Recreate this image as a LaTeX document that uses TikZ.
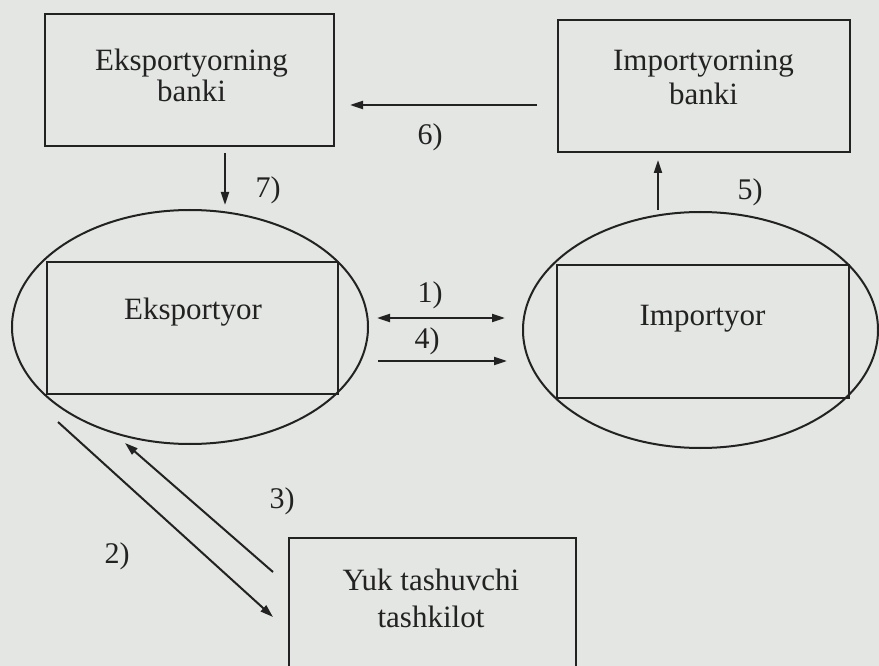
\documentclass[tikz,border=0pt]{standalone}
\usepackage{fontspec}
\setmainfont{Liberation Serif}
\usetikzlibrary{shapes.geometric,arrows.meta}
\definecolor{paper}{HTML}{E4E6E3}
\definecolor{ink}{HTML}{222222}
\begin{document}
\begin{tikzpicture}[x=1pt,y=-1pt,
  box/.style={draw=ink,line width=2pt,inner sep=0pt,minimum height=132pt},
  oval/.style={ellipse,draw=ink,line width=2pt,inner sep=0pt},
  txt/.style={text=ink,font=\fontsize{31}{33}\selectfont,inner sep=0pt,anchor=base},
  lbl/.style={text=ink,font=\fontsize{30}{33}\selectfont,inner sep=0pt,anchor=base},
  arr/.style={draw=ink,line width=2pt,-{Triangle[length=13pt,width=8pt]}},
  darr/.style={draw=ink,line width=2pt,{Triangle[length=13pt,width=8pt]}-{Triangle[length=13pt,width=8pt]}}]
\useasboundingbox (0,0) rectangle (879,666);
\clip (0,0) rectangle (879,666);
\fill[paper] (0,0) rectangle (879,666);

% top boxes
\node[box,minimum width=289pt] (ebank) at (189.5,80) {};
\node[txt] (ebank1) at (191.5,71) {Eksportyorning};
\node[txt] (ebank2) at (191.5,102) {banki};
\node[box,minimum width=292pt] (ibank) at (704,86) {};
\node[txt] (ibank1) at (703.5,71) {Importyorning};
\node[txt] (ibank2) at (703.5,105) {banki};

% ellipses with inner rectangles
\node[oval,minimum width=356pt,minimum height=234pt] (eov) at (190,327) {};
\node[box,minimum width=291pt] (erect) at (192.5,328) {};
\node[txt] (etxt) at (193,319) {Eksportyor};
\node[oval,minimum width=355pt,minimum height=236pt] (iov) at (700.5,330) {};
\node[box,minimum width=292pt,minimum height=133pt] (irect) at (703,331.5) {};
\node[txt] (itxt) at (702.5,325) {Importyor};

% carrier box (runs off the bottom)
\node[box,minimum width=287pt,minimum height=170pt,anchor=north west] (yuk) at (288,537) {};
\node[txt] (yuk1) at (431,590) {Yuk tashuvchi};
\node[txt] (yuk2) at (431,627) {tashkilot};

% connector end points
\coordinate (a6s) at (537,105); \coordinate (a6e) at (350,105);
\coordinate (a7s) at (225,153); \coordinate (a7e) at (225,205);
\coordinate (a5s) at (658,210); \coordinate (a5e) at (658,160);
\coordinate (a1s) at (377,318); \coordinate (a1e) at (505,318);
\coordinate (a4s) at (378,361); \coordinate (a4e) at (507,361);
\coordinate (a2s) at (58,422);  \coordinate (a2e) at (273,617);
\coordinate (a3s) at (273,572); \coordinate (a3e) at (125,443);

\draw[arr] (a6s) -- (a6e);
\draw[arr] (a7s) -- (a7e);
\draw[arr] (a5s) -- (a5e);
\draw[darr] (a1s) -- (a1e);
\draw[arr] (a4s) -- (a4e);
\draw[arr] (a2s) -- (a2e);
\draw[arr] (a3s) -- (a3e);

% labels
\node[lbl] (l6) at (430,145) {6)};
\node[lbl] (l7) at (268,197) {7)};
\node[lbl] (l5) at (750,200) {5)};
\node[lbl] (l1) at (430,302) {1)};
\node[lbl] (l4) at (427,348) {4)};
\node[lbl] (l3) at (282,508) {3)};
\node[lbl] (l2) at (117,563) {2)};
\end{tikzpicture}
\end{document}
